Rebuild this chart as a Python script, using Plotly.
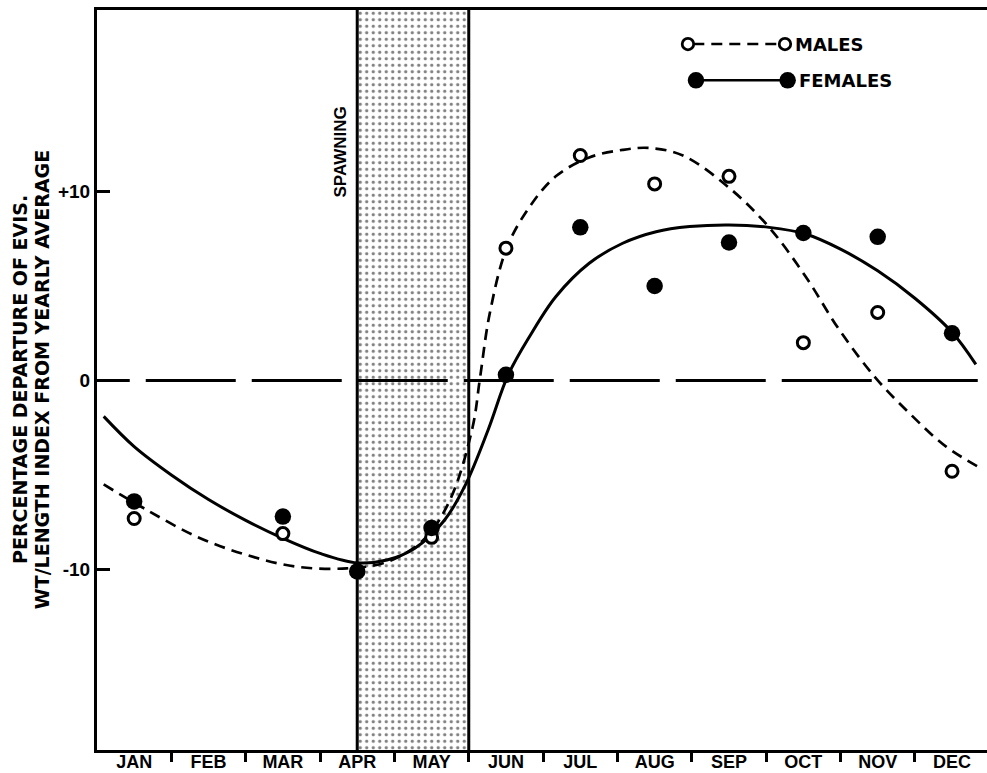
import plotly.graph_objects as go

# ---------------------------------------------------------------- data
MONTHS = ["JAN", "FEB", "MAR", "APR", "MAY", "JUN",
          "JUL", "AUG", "SEP", "OCT", "NOV", "DEC"]

# monthly observations (month index, 0 = JAN); % departure from yearly average
male_month = [0, 2, 4, 5, 6, 7, 8, 9, 10, 11]
male_value = [-7.3, -8.1, -8.3, 7.0, 11.9, 10.4, 10.8, 2.0, 3.6, -4.8]

female_month = [0, 2, 3, 4, 5, 6, 7, 8, 9, 10, 11]
female_value = [-6.4, -7.2, -10.1, -7.8, 0.3, 8.1, 5.0, 7.3, 7.8, 7.6, 2.5]

# fitted seasonal curves (x in months from start of JAN)
male_fit_x = [0.09, 0.67, 1.34, 2.01, 2.68, 3.36, 3.9, 4.4, 4.75, 5.05, 5.15,
              5.28, 5.51, 5.82, 6.17, 6.62, 7.07, 7.43, 7.88, 8.50, 9.04, 9.53,
              9.98, 10.48, 10.97, 11.42, 11.89]
male_fit_y = [-5.5, -6.85, -8.26, -9.23, -9.85, -9.94, -9.6, -8.4, -6.3, -2.5, 0.1,
              3.5, 7.0, 9.2, 10.8, 11.8, 12.2, 12.3, 11.9, 10.2, 8.1, 5.5,
              2.7, 0.1, -1.9, -3.5, -4.65]

female_fit_x = [0.09, 0.5, 1.0, 1.5, 2.0, 2.5, 3.0, 3.5, 3.9, 4.27, 4.67, 4.96, 5.26,
                5.53, 5.82, 6.17, 6.62, 7.07, 7.52, 7.97, 8.50, 9.04, 9.53,
                10.0, 10.5, 11.0, 11.5, 11.82]
female_fit_y = [-1.9, -3.5, -5.0, -6.3, -7.4, -8.35, -9.15, -9.65, -9.5, -8.89, -7.41, -5.48, -2.62,
                0.29, 2.34, 4.43, 6.2, 7.26, 7.87, 8.14, 8.23, 8.1, 7.75,
                6.95, 5.8, 4.35, 2.55, 0.85]

SPAWN_START, SPAWN_END = 3.5, 5.0   # mid-April to end of May

Y_TICKS = [-10, 0, 10]
Y_TICK_TEXT = ["-10", "0", "+10"]
Y_TITLE_LINES = ["PERCENTAGE DEPARTURE OF EVIS.",
                 "WT/LENGTH INDEX FROM YEARLY AVERAGE"]

# ---------------------------------------------------------------- layout constants
X_RANGE = [0, 11.97]
Y_RANGE = [-19.55, 19.6]
FONT = "Liberation Sans"
WIDE = "DejaVu Sans"
BLACK = "#000000"

fig = go.Figure()

# stippled spawning band
fig.add_trace(go.Scatter(
    x=[SPAWN_START, SPAWN_END, SPAWN_END, SPAWN_START, SPAWN_START],
    y=[Y_RANGE[0], Y_RANGE[0], Y_RANGE[1], Y_RANGE[1], Y_RANGE[0]],
    mode="lines", fill="toself", line=dict(width=0),
    fillcolor="white",
    fillpattern=dict(shape=".", size=6.5, solidity=0.2,
                     fgcolor=BLACK, bgcolor="white", fillmode="overlay"),
    hoverinfo="skip", showlegend=False,
))
# band edges
for xb in (SPAWN_START, SPAWN_END):
    fig.add_trace(go.Scatter(
        x=[xb, xb], y=Y_RANGE, mode="lines",
        line=dict(color=BLACK, width=3), hoverinfo="skip", showlegend=False,
    ))

# zero reference line (long dashes)
fig.add_trace(go.Scatter(
    x=[-0.77, X_RANGE[1]], y=[0, 0], mode="lines",
    line=dict(color=BLACK, width=3, dash="90px,16px"),
    hoverinfo="skip", showlegend=False,
))

# fitted curves
fig.add_trace(go.Scatter(
    x=male_fit_x, y=male_fit_y, mode="lines",
    line=dict(color=BLACK, width=2.7, dash="11px,7px", shape="spline", smoothing=1.0),
    hoverinfo="skip", showlegend=False,
))
fig.add_trace(go.Scatter(
    x=female_fit_x, y=female_fit_y, mode="lines",
    line=dict(color=BLACK, width=3, shape="spline", smoothing=1.0),
    hoverinfo="skip", showlegend=False,
))

# observations (month centres) on the labelled overlay axis
fig.add_trace(go.Scatter(
    x=[m + 0.5 for m in male_month], y=male_value, mode="markers",
    xaxis="x2", name="MALES",
    marker=dict(symbol="circle", size=12, color="white",
                line=dict(color=BLACK, width=3)),
    showlegend=False,
))
fig.add_trace(go.Scatter(
    x=[m + 0.5 for m in female_month], y=female_value, mode="markers",
    xaxis="x2", name="FEMALES",
    marker=dict(symbol="circle", size=16.5, color=BLACK, line=dict(width=0)),
    showlegend=False,
))

# ---------------------------------------------------------------- legend key (drawn)
def px_circle(xp, yp, d, filled):
    return dict(type="circle", xref="paper", yref="paper",
                xsizemode="pixel", ysizemode="pixel",
                xanchor=xp, yanchor=yp,
                x0=-d / 2, x1=d / 2, y0=-d / 2, y1=d / 2,
                fillcolor=BLACK if filled else "white",
                line=dict(color=BLACK, width=0 if filled else 2.8),
                layer="above")

shapes = [
    dict(type="line", xref="paper", yref="paper", x0=0.670, x1=0.767, y0=0.954, y1=0.954,
         line=dict(color=BLACK, width=2.6, dash="11px,7px"), layer="above"),
    px_circle(0.664, 0.954, 11.5, False),
    px_circle(0.773, 0.954, 11.5, False),
    dict(type="line", xref="paper", yref="paper", x0=0.673, x1=0.776, y0=0.905, y1=0.905,
         line=dict(color=BLACK, width=2.6), layer="above"),
    px_circle(0.673, 0.905, 16.5, True),
    px_circle(0.776, 0.905, 16.5, True),
]

annotations = [
    dict(text="MALES", xref="paper", yref="paper", x=0.782, y=0.954,
         xanchor="left", yanchor="middle", showarrow=False,
         font=dict(family=WIDE, size=18, color=BLACK, weight="bold")),
    dict(text="FEMALES", xref="paper", yref="paper", x=0.786, y=0.905,
         xanchor="left", yanchor="middle", showarrow=False,
         font=dict(family=WIDE, size=18, color=BLACK, weight="bold")),
    dict(text="SPAWNING", xref="x", yref="y", x=SPAWN_START, y=12.1,
         xanchor="right", yanchor="middle", xshift=-5, showarrow=False, textangle=-90,
         font=dict(family=FONT, size=17, color=BLACK, weight="bold")),
]
# two-line y-axis title, each line placed on its own
for line_text, xp in zip(Y_TITLE_LINES, (-0.0865, -0.0615)):
    annotations.append(dict(
        text=line_text, xref="paper", yref="paper", x=xp, y=0.50,
        xanchor="center", yanchor="middle", showarrow=False, textangle=-90,
        font=dict(family=WIDE, size=19, color=BLACK, weight="bold"),
    ))

fig.update_layout(
    template="none",
    width=987, height=773,
    margin=dict(l=97, r=0, t=10, b=23, autoexpand=False),
    paper_bgcolor="white", plot_bgcolor="white",
    showlegend=False,
    xaxis=dict(
        range=X_RANGE, showgrid=False, zeroline=False, automargin=False,
        showline=True, linewidth=3, linecolor=BLACK, mirror=True,
        tickmode="array", tickvals=list(range(1, 12)),
        ticks="outside", ticklen=9, tickwidth=2.5, tickcolor=BLACK,
        showticklabels=False,
    ),
    xaxis2=dict(
        overlaying="x", anchor="y", side="bottom", range=X_RANGE,
        showgrid=False, zeroline=False, showline=False, automargin=False,
        tickmode="array", tickvals=[i + 0.5 for i in range(12)], ticktext=MONTHS,
        ticks="", ticklabelstandoff=-1,
        tickfont=dict(family=FONT, size=18, color=BLACK, weight="bold"),
    ),
    yaxis=dict(
        range=Y_RANGE, showgrid=False, zeroline=False, automargin=False,
        showline=True, linewidth=3, linecolor=BLACK,
        tickmode="array", tickvals=Y_TICKS, ticktext=Y_TICK_TEXT,
        ticks="inside", ticklen=13, tickwidth=2.5, tickcolor=BLACK,
        tickfont=dict(family=FONT, size=19, color=BLACK, weight="bold"),
    ),
    shapes=shapes,
    annotations=annotations,
)

fig.write_html("out.html")
